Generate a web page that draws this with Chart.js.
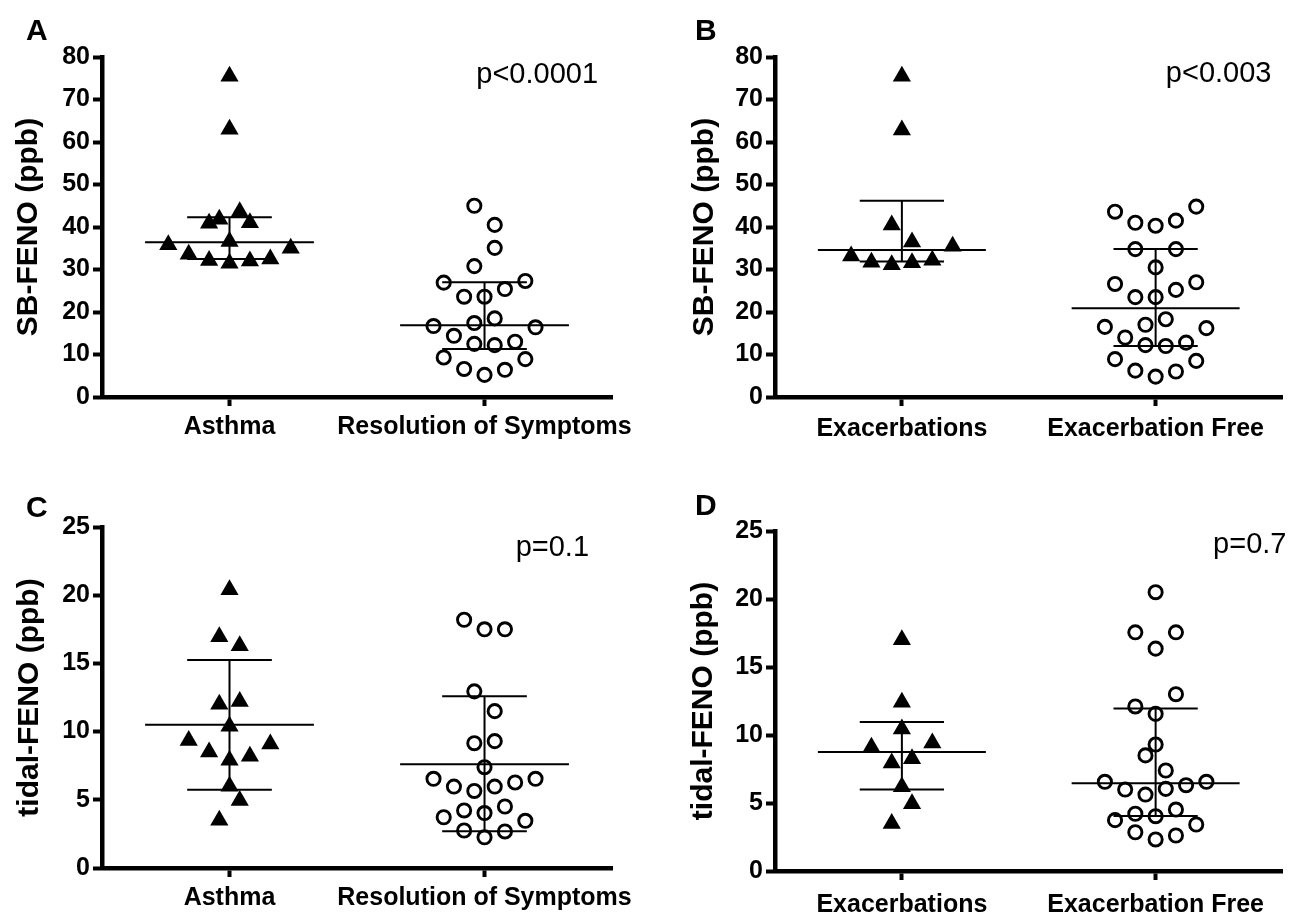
<!DOCTYPE html>
<html>
<head>
<meta charset="utf-8">
<script src="https://cdn.jsdelivr.net/npm/chart.js@4.4.1/dist/chart.umd.min.js"></script>
<style>
  html, body { margin: 0; padding: 0; background: #fff; }
  #wrap { position: relative; width: 1293px; height: 916px; }
  .panel { position: absolute; }
</style>
</head>
<body>
<div id="wrap">
  <div class="panel" style="left:0;top:0;width:646px;height:458px"><canvas id="chartA"></canvas></div>
  <div class="panel" style="left:646px;top:0;width:647px;height:458px"><canvas id="chartB"></canvas></div>
  <div class="panel" style="left:0;top:458px;width:646px;height:458px"><canvas id="chartC"></canvas></div>
  <div class="panel" style="left:646px;top:458px;width:647px;height:458px"><canvas id="chartD"></canvas></div>
</div>
<script>
// categories
const catsSymptoms = ['Asthma', 'Resolution of Symptoms'];
const catsExac = ['Exacerbations', 'Exacerbation Free'];

// SB-FENO (ppb)
const sbAsthma = [31.5, 32.0, 32.1, 32.5, 33.6, 35.0, 35.8, 36.6, 41.0, 40.9, 41.8, 43.6, 63.0, 75.5];
const sbResolution = [5.2, 6.4, 6.6, 8.9, 9.3, 12.5, 12.2, 14.4, 13.0, 16.7, 16.4, 17.4, 18.5,
  23.6, 25.4, 23.6, 27.3, 26.9, 30.8, 35.1, 45.0, 40.5];
const sbExac = [31.1, 31.6, 31.7, 32.2, 33.2, 35.5, 40.5, 36.5, 62.8, 75.5];
const sbExacFree = [4.8, 6.0, 6.2, 8.5, 8.9, 12.2, 12.0, 14.0, 12.8, 16.5, 16.2, 17.0, 18.3,
  23.5, 25.2, 23.5, 27.0, 26.6, 30.5, 34.8, 34.8, 40.3, 41.5, 41.0, 44.8, 43.6];

// tidal-FENO (ppb)
const tidalAsthma = [3.5, 4.95, 6.0, 7.9, 8.2, 8.5, 9.1, 9.35, 10.4, 12.0, 12.2, 16.95, 16.3, 20.4];
const tidalResolution = [2.25, 2.68, 2.75, 3.46, 3.72, 4.03, 4.51, 4.22, 5.65, 5.97, 5.97, 6.27,
  6.54, 6.54, 7.39, 9.15, 9.3, 12.95, 11.5, 17.5, 17.5, 18.2];
const tidalExac = [3.5, 4.95, 6.2, 7.95, 8.25, 9.1, 9.42, 10.45, 12.4, 17.0];
const tidalExacFree = [2.32, 2.61, 2.85, 3.42, 3.74, 4.03, 4.52, 4.21, 5.62, 6.04, 5.99, 6.31,
  6.56, 6.56, 8.5, 7.39, 9.3, 11.55, 13.0, 12.1, 16.35, 17.55, 17.55, 20.5];

// median and interquartile range per group
const medA = [36.4, 16.9], q1A = [32.5, 11.3], q3A = [42.3, 27.0];
const medB = [34.6, 20.9], q1B = [31.9, 12.0], q3B = [46.2, 34.8];
const medC = [10.5, 7.6],  q1C = [5.73, 2.7], q3C = [15.25, 12.6];
const medD = [8.75, 6.45], q1D = [6.0, 4.05], q3D = [10.95, 11.95];

const sbTicks = [0, 10, 20, 30, 40, 50, 60, 70, 80];
const tidalTicks = [0, 5, 10, 15, 20, 25];
const pValues = ['p<0.0001', 'p<0.003', 'p=0.1', 'p=0.7'];

const FONT = '"Liberation Sans", Arial, Helvetica, sans-serif';
const SLOT = 0.08;       // horizontal step between dots (x units)
const BIN = 0.0606;      // row height as a fraction of the y range
const MED_HALF = 0.331;
const CAP_HALF = 0.166;

// prism-like column scatter: rows of similar values spread around the centre
function swarm(values, center, range) {
  const h = range * BIN;
  const order = values.map((v, i) => i).sort((a, b) => values[a] - values[b]);
  const pts = new Array(values.length);
  let k = 0;
  while (k < order.length) {
    const start = values[order[k]];
    const row = [];
    while (k < order.length && values[order[k]] - start <= h) { row.push(order[k]); k++; }
    row.sort((a, b) => a - b);
    const n = row.length;
    row.forEach((di, j) => {
      let slot;
      if (n % 2) slot = j === 0 ? 0 : (j % 2 ? 1 : -1) * Math.ceil(j / 2);
      else slot = (j % 2 ? 1 : -1) * (Math.floor(j / 2) + 0.5);
      pts[di] = { x: center + slot * SLOT, y: values[di] };
    });
  }
  return pts;
}

function summary(c, med, q1, q3) {
  return [
    { x: c - MED_HALF, y: med }, { x: c + MED_HALF, y: med }, { x: c, y: null },
    { x: c - CAP_HALF, y: q3 }, { x: c + CAP_HALF, y: q3 }, { x: c, y: null },
    { x: c - CAP_HALF, y: q1 }, { x: c + CAP_HALF, y: q1 }, { x: c, y: null },
    { x: c, y: q1 }, { x: c, y: q3 }
  ];
}

function makePanel(id, p) {
  const range = p.ticks[p.ticks.length - 1];
  const L = p.layout;
  const datasets = [
    {
      type: 'scatter', data: swarm(p.groups[0], 0.5, range),
      pointStyle: 'triangle', pointRadius: 10.5, pointBorderWidth: 0,
      pointBackgroundColor: '#000', pointBorderColor: '#000'
    },
    {
      type: 'scatter', data: swarm(p.groups[1], 1.5, range),
      pointStyle: 'circle', pointRadius: 6.6, pointBorderWidth: 2.9,
      pointBackgroundColor: 'rgba(0,0,0,0)', pointBorderColor: '#000'
    }
  ];
  [0, 1].forEach(g => {
    datasets.push({
      type: 'line', data: summary(0.5 + g, p.med[g], p.q1[g], p.q3[g]),
      borderColor: '#000', borderWidth: 2, pointRadius: 0, spanGaps: false, tension: 0
    });
  });

  new Chart(document.getElementById(id), {
    data: { datasets },
    options: {
      responsive: true,
      maintainAspectRatio: false,
      animation: false,
      events: [],
      layout: { padding: { top: L.padTop, right: L.padRight, left: 0, bottom: 0 } },
      plugins: { legend: { display: false }, tooltip: { enabled: false } },
      scales: {
        x: {
          type: 'linear', min: 0, max: 2,
          afterBuildTicks: s => { s.ticks = [{ value: 0.5 }, { value: 1.5 }]; },
          afterFit: s => { s.height = L.xHeight; },
          ticks: {
            callback: (v, i) => p.cats[i],
            color: '#000', padding: L.xPad, maxRotation: 0, autoSkip: false,
            font: { family: FONT, size: 25, weight: 'bold' }
          },
          grid: { drawOnChartArea: false, drawTicks: true, tickLength: 9, tickWidth: 4, tickColor: '#000' },
          border: { display: true, width: 4.5, color: '#000' }
        },
        y: {
          type: 'linear', min: 0, max: range,
          afterBuildTicks: s => { s.ticks = p.ticks.map(v => ({ value: v })); },
          afterFit: s => { s.width = L.yWidth; },
          ticks: {
            color: '#000', padding: 3,
            font: { family: FONT, size: 25, weight: 'bold' }
          },
          title: {
            display: true, text: p.yTitle, color: '#000',
            padding: { top: L.titlePad, bottom: 0 },
            font: { family: FONT, size: 30, weight: 'bold' }
          },
          grid: { drawOnChartArea: false, drawTicks: true, tickLength: 9, tickWidth: 4, tickColor: '#000' },
          border: { display: true, width: 4.5, color: '#000' }
        }
      }
    },
    plugins: [{
      id: 'notes',
      afterDraw(chart) {
        const { ctx, chartArea: a } = chart;
        ctx.save();
        ctx.fillStyle = '#000';
        ctx.textBaseline = 'alphabetic';
        ctx.font = '29px ' + FONT;
        ctx.textAlign = 'right';
        ctx.fillText(p.pText, a.right + L.pDx, a.top + L.pDy);
        ctx.font = 'bold 30px ' + FONT;
        ctx.textAlign = 'left';
        ctx.fillText(p.letter, L.letterX, L.letterY);
        ctx.restore();
      }
    }]
  });
}

makePanel('chartA', {
  cats: catsSymptoms, groups: [sbAsthma, sbResolution], med: medA, q1: q1A, q3: q3A,
  ticks: sbTicks, yTitle: 'SB-FENO (ppb)', pText: pValues[0], letter: 'A',
  layout: { yWidth: 102, xHeight: 61, padTop: 57, padRight: 33, titlePad: 11, xPad: 6, pDx: -14, pDy: 26, letterX: 26, letterY: 40 }
});
makePanel('chartB', {
  cats: catsExac, groups: [sbExac, sbExacFree], med: medB, q1: q1B, q3: q3B,
  ticks: sbTicks, yTitle: 'SB-FENO (ppb)', pText: pValues[1], letter: 'B',
  layout: { yWidth: 129, xHeight: 61, padTop: 57, padRight: 6, titlePad: 41, xPad: 8, pDx: -11, pDy: 25, letterX: 49, letterY: 40 }
});
makePanel('chartC', {
  cats: catsSymptoms, groups: [tidalAsthma, tidalResolution], med: medC, q1: q1C, q3: q3C,
  ticks: tidalTicks, yTitle: 'tidal-FENO (ppb)', pText: pValues[2], letter: 'C',
  layout: { yWidth: 102, xHeight: 48, padTop: 69, padRight: 33, titlePad: 12, xPad: 6, pDx: -23, pDy: 29, letterX: 26, letterY: 59 }
});
makePanel('chartD', {
  cats: catsExac, groups: [tidalExac, tidalExacFree], med: medD, q1: q1D, q3: q3D,
  ticks: tidalTicks, yTitle: 'tidal-FENO (ppb)', pText: pValues[3], letter: 'D',
  layout: { yWidth: 129, xHeight: 45, padTop: 73, padRight: 6, titlePad: 40, xPad: 10, pDx: 4, pDy: 22, letterX: 49, letterY: 57 }
});
</script>
</body>
</html>
